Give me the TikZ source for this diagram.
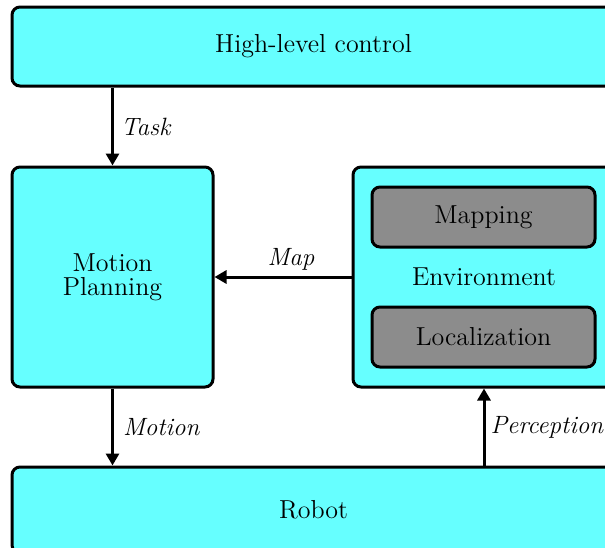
\documentclass[tikz,border=0pt]{standalone}
\usetikzlibrary{arrows.meta}

\definecolor{boxcyan}{RGB}{102,255,255}
\definecolor{boxgray}{RGB}{140,140,140}

\tikzset{
  block/.style={draw, line width=1.5pt, rounded corners=4pt, fill=boxcyan,
    font=\fontsize{13}{12}\selectfont, align=center, inner sep=0},
  subblock/.style={block, fill=boxgray, minimum width=111.5pt, minimum height=30pt},
  flow/.style={line width=1.5pt, -{Triangle[length=6pt,width=6.5pt]}},
  lbl/.style={font=\fontsize{12.5}{15}\selectfont\itshape, inner sep=2pt}
}

\begin{document}
\begin{tikzpicture}[x=0.5pt,y=-0.5pt]
\useasboundingbox (0,0) rectangle (605,547);

\node (hlc) [block, minimum width=301.5pt, minimum height=39.5pt] at (313.5,46.5) {High-level control};
\node (plan) [block, minimum width=100.5pt, minimum height=110pt] at (112.5,277) {Motion\\Planning};
\node (env) [block, minimum width=131pt, minimum height=110pt] at (484,277) {Environment};
\node (map) [subblock] at (483.5,217) {Mapping};
\node (loc) [subblock] at (483.5,337) {Localization};
\node (robot) [block, minimum width=301.5pt, minimum height=43pt] at (313.5,510) {Robot};

\draw [flow] (hlc.south -| plan) -- node [lbl, right=1.5pt] {Task} (plan.north);
\draw [flow] (env) -- node [lbl, above=0.75pt, xshift=4pt] {Map} (plan);
\draw [flow] (plan.south) -- node [lbl, right=2.5pt] {Motion} (plan.south |- robot.north);
\draw [flow] (robot.north -| env) -- node [lbl, right=0.5pt] {Perception} (env.south);
\end{tikzpicture}
\end{document}
